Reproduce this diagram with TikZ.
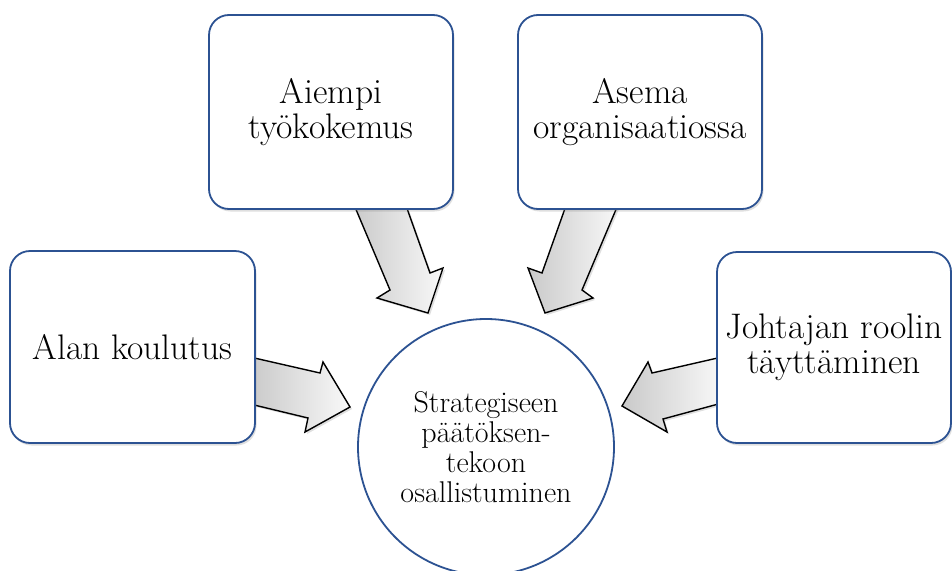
\documentclass[tikz,border=0pt]{standalone}
\usetikzlibrary{shadows}
\definecolor{bordblue}{RGB}{44,82,146}
\begin{document}
\begin{tikzpicture}[x=1pt,y=-1pt,
  box/.style={draw=bordblue, line width=1.8pt, rounded corners=20pt, fill=white,
    align=center, font=\fontsize{35.5}{35}\selectfont, inner sep=0pt,
    drop shadow={opacity=0.25, shadow xshift=1.5pt, shadow yshift=-2.5pt}},
  blockarrow/.style={draw=black, line width=1.4pt, line join=miter,
    left color=gray!42, right color=gray!5,
    drop shadow={opacity=0.25, shadow xshift=2pt, shadow yshift=-2pt}},
  hub/.style={circle, draw=bordblue, line width=1.8pt, fill=white,
    minimum size=256pt, inner sep=0pt, align=center,
    font=\fontsize{30}{30}\selectfont}]
\useasboundingbox (0,0) rectangle (952,570);

% block arrows
\draw[blockarrow] (250,357) -- (320,373) -- (323,362) -- (350,407) -- (305,432) -- (308,418) -- (250,404) -- cycle;
\draw[blockarrow] (722,357) -- (652,373) -- (648,362) -- (622,406) -- (667,432) -- (663,419) -- (722,403) -- cycle;
\draw[blockarrow] (352,200) -- (390,290) -- (377,298) -- (428,313) -- (443,268) -- (430,273) -- (404,200) -- cycle;
\draw[blockarrow] (568,200) -- (542,273) -- (528,268) -- (545,313) -- (593,298) -- (582,290) -- (620,200) -- cycle;

% boxes
\node[box, minimum width=244pt, minimum height=194pt] (aiempi) at (331,112) {Aiempi\\työkokemus};
\node[box, minimum width=244pt, minimum height=194pt] (asema) at (640,112) {Asema\\organisaatiossa};
\node[box, minimum width=245pt, minimum height=192pt] (alan) at (132.5,347) {Alan koulutus};
\node[box, minimum width=234pt, minimum height=191pt] (johtajan) at (834,347.5) {Johtajan roolin\\täyttäminen};

% hub
\node[hub] (hub) at (486,447) {Strategiseen\\päätöksen-\\tekoon\\osallistuminen};
\end{tikzpicture}
\end{document}
